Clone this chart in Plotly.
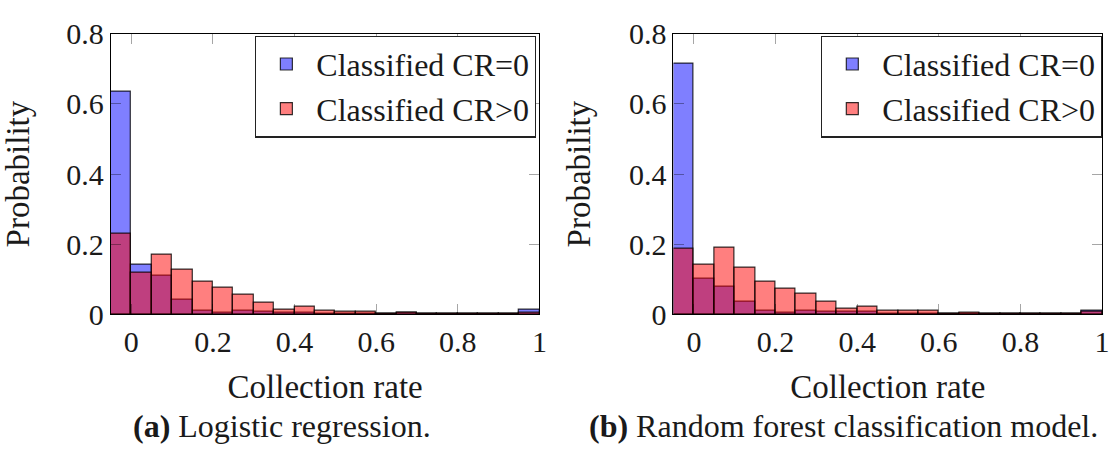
import plotly.graph_objects as go

# Histogram bins (collection rate), bin width 0.05
bin_centers = [-0.025, 0.025, 0.075, 0.125, 0.175, 0.225, 0.275, 0.325, 0.375, 0.425,
               0.475, 0.525, 0.575, 0.625, 0.675, 0.725, 0.775, 0.825, 0.875, 0.925, 0.975]
bin_width = 0.05

# (a) Logistic regression
lr_cr0 = [0.635, 0.142, 0.110, 0.042, 0.011, 0.004, 0.011, 0.007, 0.006, 0.006,
          0.002, 0.002, 0.002, 0.001, 0.004, 0.001, 0.001, 0.001, 0.001, 0.001, 0.014]
lr_crpos = [0.229, 0.119, 0.171, 0.128, 0.092, 0.075, 0.057, 0.034, 0.015, 0.021,
            0.010, 0.008, 0.008, 0.002, 0.004, 0.002, 0.001, 0.001, 0.001, 0.001, 0.004]

# (b) Random forest classification model
rf_cr0 = [0.715, 0.102, 0.078, 0.037, 0.012, 0.006, 0.011, 0.009, 0.008, 0.007,
          0.002, 0.002, 0.002, 0.001, 0.002, 0.001, 0.001, 0.001, 0.001, 0.001, 0.011]
rf_crpos = [0.187, 0.142, 0.190, 0.134, 0.093, 0.074, 0.060, 0.037, 0.016, 0.021,
            0.011, 0.010, 0.010, 0.003, 0.004, 0.002, 0.001, 0.001, 0.001, 0.001, 0.007]

series_names = ["Classified CR=0", "Classified CR>0"]
x_ticks = [0, 0.2, 0.4, 0.6, 0.8, 1]
x_tick_text = ["0", "0.2", "0.4", "0.6", "0.8", "1"]
y_ticks = [0, 0.2, 0.4, 0.6, 0.8]
y_tick_text = ["0", "0.2", "0.4", "0.6", "0.8"]
x_title = "Collection rate"
y_title = "Probability"
captions = ["<b>(a)</b> Logistic regression.", "<b>(b)</b> Random forest classification model."]

FONT = "Liberation Serif"
TXT = "#1a1a1a"
fills = ["rgba(0,0,255,0.5)", "rgba(255,0,0,0.5)"]
outline = dict(color="rgba(0,0,0,0.8)", width=1.2)

fig = go.Figure()
panels = [(lr_cr0, lr_crpos, "x", "y", "legend"), (rf_cr0, rf_crpos, "x2", "y2", "legend2")]
for cr0, crpos, xa, ya, lg in panels:
    for vals, name, fc in [(cr0, series_names[0], fills[0]), (crpos, series_names[1], fills[1])]:
        fig.add_trace(go.Bar(
            x=bin_centers, y=vals, width=bin_width, name=name,
            marker=dict(color=fc, line=outline),
            xaxis=xa, yaxis=ya, legend=lg,
        ))

xdom = [[0.0998, 0.4855], [0.6062, 0.9920]]
ydom = [0.2961, 0.9583]

common_x = dict(range=[-0.05, 1.0], tickvals=x_ticks, ticktext=x_tick_text,
                ticks="inside", ticklen=10, tickcolor="rgba(0,0,0,0.35)", tickwidth=1,
                showline=True, linecolor="black", linewidth=1.2, mirror="allticks",
                showgrid=False, zeroline=False,
                tickfont=dict(family=FONT, size=30, color=TXT),
                title=dict(text=x_title, font=dict(family=FONT, size=33, color=TXT), standoff=18))
common_y = dict(range=[0, 0.8], tickvals=y_ticks, ticktext=y_tick_text,
                ticks="inside", ticklen=10, tickcolor="rgba(0,0,0,0.35)", tickwidth=1,
                showline=True, linecolor="black", linewidth=1.2, mirror="allticks",
                showgrid=False, zeroline=False,
                tickfont=dict(family=FONT, size=30, color=TXT),
                title=dict(text=y_title, font=dict(family=FONT, size=33, color=TXT), standoff=28))

legend_common = dict(bgcolor="white", bordercolor="#222", borderwidth=1.2,
                     font=dict(family=FONT, size=32, color=TXT),
                     xanchor="right", yanchor="top", y=0.954, tracegroupgap=0,
                     itemwidth=50)

fig.update_layout(
    width=1119, height=456,
    margin=dict(l=0, r=0, t=0, b=0),
    font=dict(family=FONT, size=30, color=TXT),
    paper_bgcolor="white", plot_bgcolor="white",
    barmode="overlay", bargap=0,
    xaxis=dict(domain=xdom[0], anchor="y", **common_x),
    yaxis=dict(domain=ydom, anchor="x", **common_y),
    xaxis2=dict(domain=xdom[1], anchor="y2", **common_x),
    yaxis2=dict(domain=ydom, anchor="x2", **common_y),
    legend=dict(x=0.4826, **legend_common),
    legend2=dict(x=0.9920, **legend_common),
    showlegend=True,
)

cap_x = [0.2538, 0.7596]
for cx, cap in zip(cap_x, captions):
    fig.add_annotation(text=cap, x=cx, y=0.0, xref="paper", yref="paper",
                       xanchor="center", yanchor="bottom", yshift=-6, showarrow=False,
                       font=dict(family=FONT, size=32, color=TXT))

fig.write_html("out.html")
